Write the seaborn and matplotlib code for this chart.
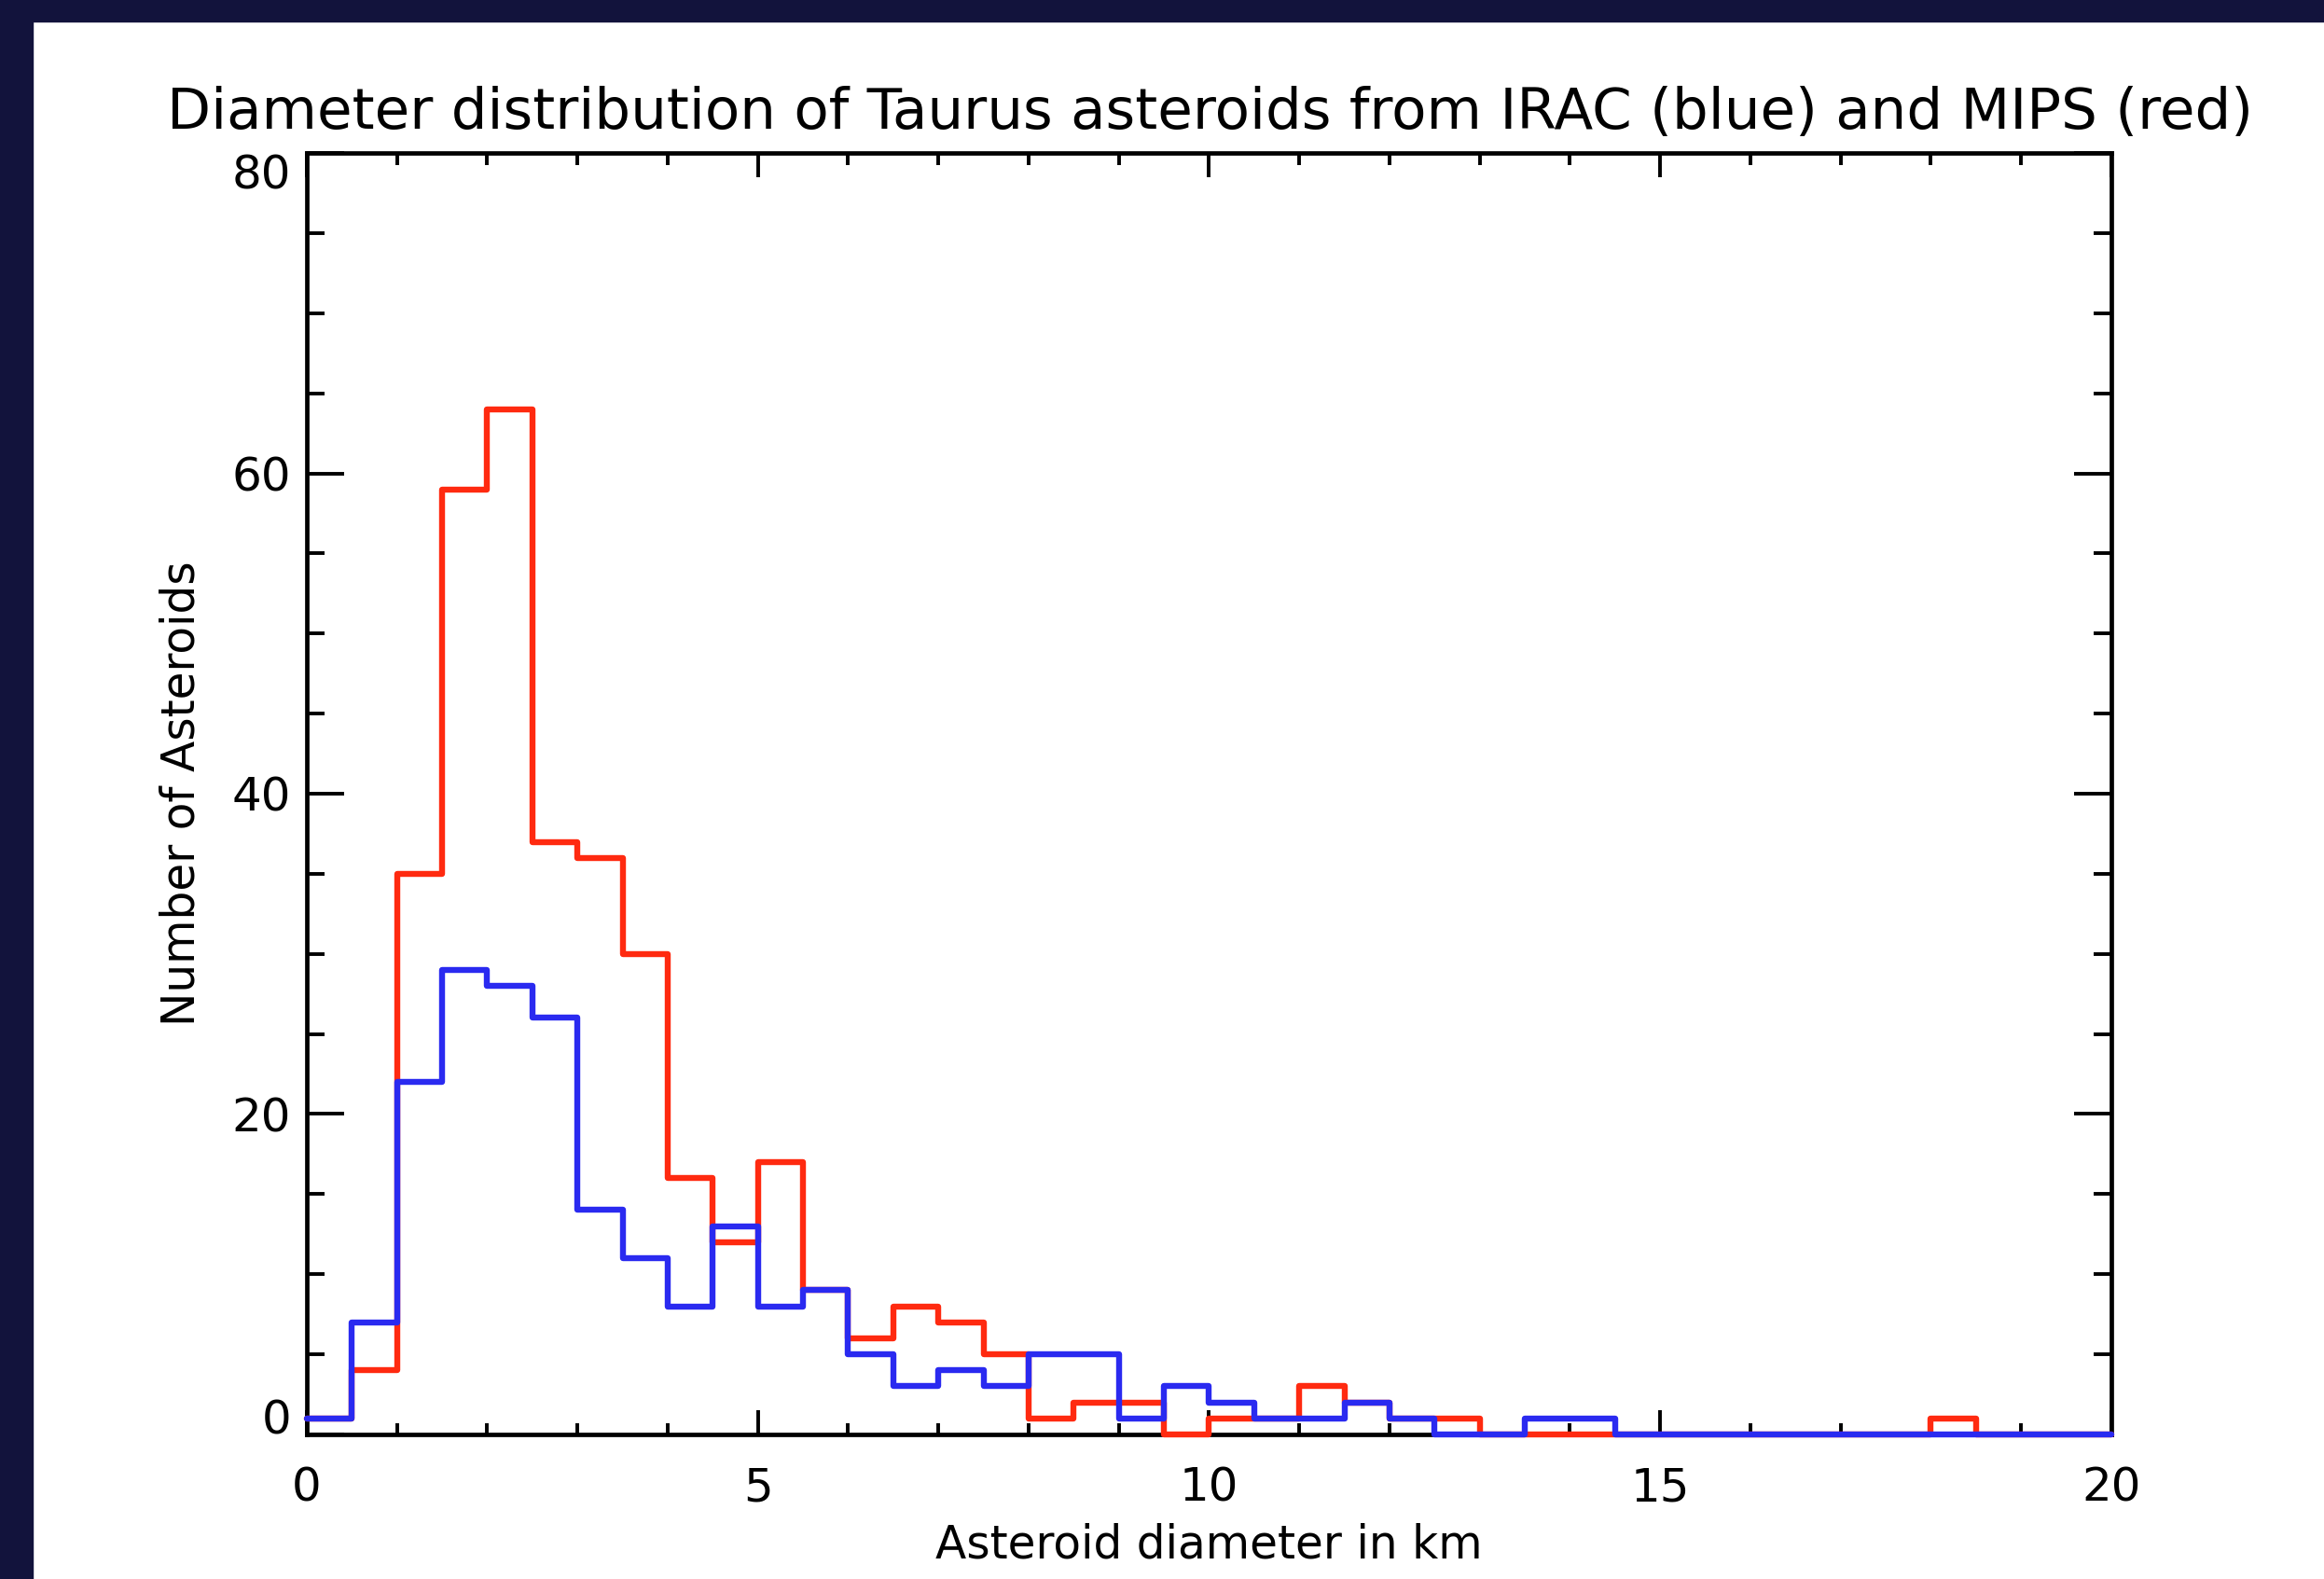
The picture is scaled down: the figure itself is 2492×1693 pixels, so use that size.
import numpy as np
import pandas as pd
import matplotlib
matplotlib.use("Agg")
import matplotlib.pyplot as plt
from matplotlib.patches import Rectangle
from matplotlib.ticker import MultipleLocator
import seaborn as sns

# -----------------------------
# Data (counts per 0.5 km bin, 0..20 km)
# -----------------------------
bin_width = 0.5
diameters = np.arange(0, 20, bin_width) + bin_width / 2

mips_counts = [1, 4, 35, 59, 64, 37, 36, 30, 16, 12,
               17, 9, 6, 8, 7, 5, 1, 2, 2, 0,
               1, 1, 3, 2, 1, 1, 0, 0, 0, 0,
               0, 0, 0, 0, 0, 0, 1, 0, 0, 0]
irac_counts = [1, 7, 22, 29, 28, 26, 14, 11, 8, 13,
               8, 9, 5, 3, 4, 3, 5, 5, 1, 3,
               2, 1, 1, 2, 1, 0, 0, 1, 1, 0,
               0, 0, 0, 0, 0, 0, 0, 0, 0, 0]

df = pd.DataFrame({
    "Diameter": np.concatenate([diameters, diameters]),
    "Count": mips_counts + irac_counts,
    "Instrument": ["MIPS"] * len(diameters) + ["IRAC"] * len(diameters),
})

colors = {"MIPS": "#ff2a10", "IRAC": "#2a2af0"}

sns.set_style("white")
plt.rcParams["font.family"] = ["DejaVu Sans"]
plt.rcParams["text.color"] = "black"
plt.rcParams["axes.labelcolor"] = "black"

fig = plt.figure(figsize=(24.92, 16.93), dpi=100)
fig.patch.set_facecolor("white")
ax = fig.add_axes([0.132, 0.0916, 0.7765, 0.8115])

# navy frame strips (top and left)
navy = "#12133c"
fig.add_artist(Rectangle((0, 0.9864), 1, 0.0136, transform=fig.transFigure,
                         color=navy, zorder=0))
fig.add_artist(Rectangle((0, 0), 0.014, 1, transform=fig.transFigure,
                         color=navy, zorder=0))

# ---------------------------------------
# Histograms: MIPS first, IRAC on top
# ---------------------------------------
for name in ["MIPS", "IRAC"]:
    sub = df[df["Instrument"] == name]
    sns.histplot(data=sub, x="Diameter", weights="Count",
                 binwidth=bin_width, binrange=(0, 20),
                 element="step", fill=False, color=colors[name],
                 linewidth=4.6, ax=ax)

for line in ax.lines:
    line.set_zorder(3)
    line.set_clip_on(False)

ax.set_xlim(0, 20)
ax.set_ylim(0, 80)

ax.xaxis.set_major_locator(MultipleLocator(5))
ax.xaxis.set_minor_locator(MultipleLocator(1))
ax.yaxis.set_major_locator(MultipleLocator(20))
ax.yaxis.set_minor_locator(MultipleLocator(5))

ax.tick_params(axis="y", which="major", direction="in", length=29, width=2.8,
               left=True, right=True, labelsize=36, pad=12,
               color="black", labelcolor="black")
ax.tick_params(axis="y", which="minor", direction="in", length=14, width=2.8,
               left=True, right=True, color="black")
ax.tick_params(axis="x", which="major", direction="in", length=19, width=2.8,
               bottom=True, top=True, labelsize=36, pad=24,
               color="black", labelcolor="black")
ax.tick_params(axis="x", which="minor", direction="in", length=9, width=2.8,
               bottom=True, top=True, color="black")

for sp in ax.spines.values():
    sp.set_visible(True)
    sp.set_linewidth(3.4)
    sp.set_color("black")

ax.set_xlabel("Asteroid diameter in km", fontsize=35)
ax.xaxis.set_label_coords(0.5, -0.086)
ax.xaxis.label.set_va("center")
ax.set_ylabel("Number of Asteroids", fontsize=35)
ax.yaxis.set_label_coords(-0.0697, 0.5)
ax.yaxis.label.set_va("center")

fig.text(0.5205, 0.9185,
         "Diameter distribution of Taurus asteroids from IRAC (blue) and MIPS (red)",
         ha="center", va="baseline", fontsize=44)

# end labels sit inside the axis range, as in the original
fig.canvas.draw()
for lab in ax.get_yticklabels():
    if lab.get_text() == "0":
        lab.set_va("baseline")
    elif lab.get_text() == "80":
        lab.set_va("top")

plt.savefig("out.png", dpi=100, facecolor=fig.get_facecolor())
